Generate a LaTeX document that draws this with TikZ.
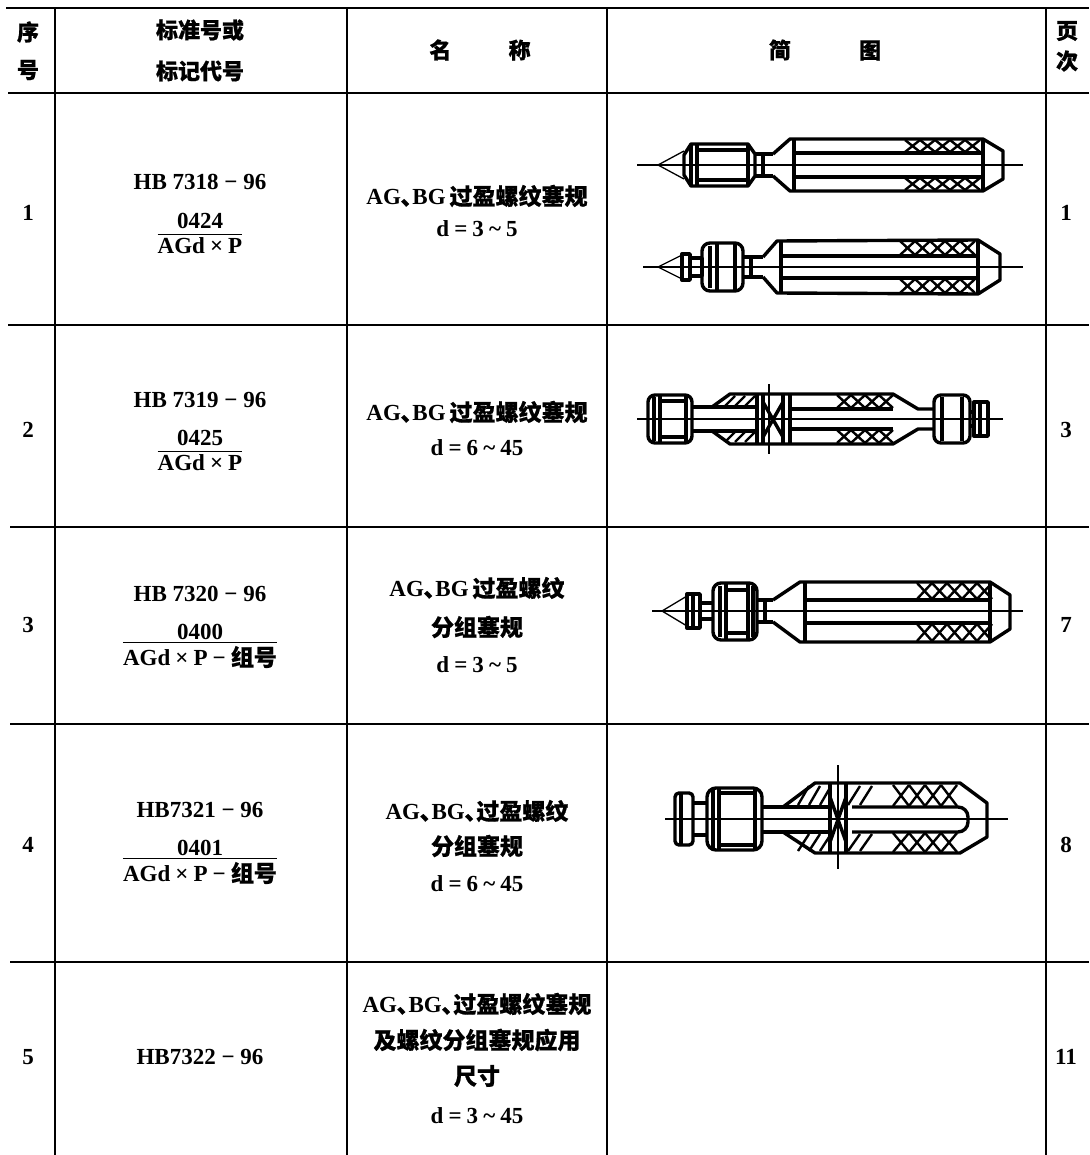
\documentclass[tikz,border=0pt]{standalone}
\usepackage{fontspec}
\setmainfont{Liberation Serif}
\newfontfamily\cjk{Noto Sans CJK SC}[FakeBold=0.7]
\newcommand\zh[1]{{\cjk #1}}
\newcommand\dun{{\cjk ､}}
\newcommand\knurl[5]{%
  \foreach \i in {1,...,#3}{%
    \draw[kn] ({#1+(\i-1)*#2},#4) -- ({#1+\i*#2},#5);
    \draw[kn] ({#1+(\i-1)*#2},#5) -- ({#1+\i*#2},#4);
  }}
\newcommand\hatchup[5]{%
  \foreach \i in {1,...,#3}{%
    \draw[kn] ({#1+(\i-1)*#2},#5) -- ({#1+(\i-1)*#2+#2},#4);
  }}
\newcommand\gsp{\hspace{0.22em}}
\begin{document}
\begin{tikzpicture}[x=1pt,y=-1pt,
  lat/.style={font=\fontsize{23}{26}\selectfont\bfseries, inner sep=0pt},
  hz/.style={font=\fontsize{22}{26}\selectfont\bfseries\cjk, inner sep=0pt},
  tline/.style={line width=1.8pt},
  gl/.style={line width=3.4pt, line join=round},
  kn/.style={line width=2.4pt},
  ax/.style={line width=1.3pt},
  thin/.style={line width=1.3pt}]
\useasboundingbox (0,0) rectangle (1089,1155);
\fill[white] (0,0) rectangle (1089,1155);

% ---------------- table rules
\draw[tline, line width=2.6pt] (6,8) -- (1089,8);
\draw[tline] (8,93) -- (1089,93);
\draw[tline] (8,325) -- (1089,325);
\draw[tline] (10,527) -- (1089,527);
\draw[tline] (10,724) -- (1089,724);
\draw[tline] (10,962) -- (1089,962);
\draw[tline] (55,8) -- (55,1155);
\draw[tline] (347,8) -- (347,1155);
\draw[tline] (607,8) -- (607,1155);
\draw[tline] (1046,8) -- (1046,1155);

% ---------------- header
\node[hz] (h1a) at (28,32) {序};
\node[hz] (h1b) at (28,70) {号};
\node[hz] (h2a) at (200,30) {标准号或};
\node[hz] (h2b) at (200,71) {标记代号};
\node[hz] (h3) at (480,50) {名\hspace{2.6em}称};
\node[hz] (h4) at (825,50) {简\hspace{3.1em}图};
\node[hz] (h5a) at (1067,31) {页};
\node[hz] (h5b) at (1067,61) {次};

% ---------------- column 1 and 5
\node[lat] (r1) at (28,213) {1};
\node[lat] (r2) at (28,430) {2};
\node[lat] (r3) at (28,625) {3};
\node[lat] (r4) at (28,845) {4};
\node[lat] (r5) at (28,1057) {5};
\node[lat] (p1) at (1066,213) {1};
\node[lat] (p2) at (1066,430) {3};
\node[lat] (p3) at (1066,625) {7};
\node[lat] (p4) at (1066,845) {8};
\node[lat] (p5) at (1066,1057) {11};

% ---------------- column 2
\node[lat] (s1) at (200,182) {HB 7318 − 96};
\node[lat] (s1n) at (200,221) {0424};
\node[lat] (s1d) at (200,246) {AGd\gsp×\gsp P};
\draw[thin] ([yshift=3pt]s1d.north west) -- ([yshift=3pt]s1d.north east);
\node[lat] (s2) at (200,400) {HB 7319 − 96};
\node[lat] (s2n) at (200,438) {0425};
\node[lat] (s2d) at (200,463) {AGd\gsp×\gsp P};
\draw[thin] ([yshift=3pt]s2d.north west) -- ([yshift=3pt]s2d.north east);
\node[lat] (s3) at (200,594) {HB 7320 − 96};
\node[lat] (s3n) at (200,632) {0400};
\node[lat] (s3d) at (200,657) {AGd\gsp×\gsp P\gsp−\gsp\zh{组号}};
\draw[thin] ([yshift=3pt]s3d.north west) -- ([yshift=3pt]s3d.north east);
\node[lat] (s4) at (200,810) {HB7321 − 96};
\node[lat] (s4n) at (200,848) {0401};
\node[lat] (s4d) at (200,873) {AGd\gsp×\gsp P\gsp−\gsp\zh{组号}};
\draw[thin] ([yshift=3pt]s4d.north west) -- ([yshift=3pt]s4d.north east);
\node[lat] (s5) at (200,1057) {HB7322 − 96};

% ---------------- column 3
\node[lat] (n1a) at (477,196) {AG\dun BG\,\zh{过盈螺纹塞规}};
\node[lat] (n1b) at (477,229) {d\gsp=\gsp3\gsp\textasciitilde\gsp5};
\node[lat] (n2a) at (477,412) {AG\dun BG\,\zh{过盈螺纹塞规}};
\node[lat] (n2b) at (477,448) {d\gsp=\gsp6\gsp\textasciitilde\gsp45};
\node[lat] (n3a) at (477,588) {AG\dun BG\,\zh{过盈螺纹}};
\node[lat] (n3b) at (477,627) {\zh{分组塞规}};
\node[lat] (n3c) at (477,665) {d\gsp=\gsp3\gsp\textasciitilde\gsp5};
\node[lat] (n4a) at (477,811) {AG\dun BG\dun\zh{过盈螺纹}};
\node[lat] (n4b) at (477,846) {\zh{分组塞规}};
\node[lat] (n4c) at (477,884) {d\gsp=\gsp6\gsp\textasciitilde\gsp45};
\node[lat] (n5a) at (477,1004) {AG\dun BG\dun\zh{过盈螺纹塞规}};
\node[lat] (n5b) at (477,1040) {\zh{及螺纹分组塞规应用}};
\node[lat] (n5c) at (477,1076) {\zh{尺寸}};
\node[lat] (n5d) at (477,1116) {d\gsp=\gsp3\gsp\textasciitilde\gsp45};

% ================= drawing 1, upper gauge (axis y=165)
\draw[ax] (637,165) -- (1023,165);
\draw[thin] (684,151) -- (658,165) -- (684,179);
\draw[gl] (684,155) -- (691,144) -- (748,144) -- (755,154) -- (755,176) -- (748,186) -- (691,186) -- (684,175) -- cycle;
\draw[gl] (691,145) -- (691,185) (697,145) -- (697,185) (748,145) -- (748,185);
\draw[gl] (697,150) -- (748,150) (697,180) -- (748,180);
\draw[gl] (755,154) -- (773,154) (755,176) -- (773,176) (763,154) -- (763,176);
\draw[gl] (773,154) -- (790,139) -- (983,139) -- (1003,151) -- (1003,179) -- (983,191) -- (790,191) -- (773,176);
\draw[gl] (794,139) -- (794,191) (983,139) -- (983,191);
\draw[gl] (794,153) -- (983,153) (794,177) -- (983,177);
\knurl{905}{15}{5}{140}{152}
\knurl{905}{15}{5}{178}{190}

% ================= drawing 1, lower gauge (axis y=267)
\draw[ax] (643,267) -- (1023,267);
\draw[thin] (682,255) -- (658,267) -- (682,279);
\draw[gl] (682,254) rectangle (690,280);
\draw[gl] (690,258) rectangle (702,276);
\draw[gl, rounded corners=8pt] (702,243) rectangle (743,291);
\draw[gl] (710,246) -- (710,288) (717,244) -- (717,290) (735,244) -- (735,290);
\draw[gl] (743,257) -- (763,257) (743,277) -- (763,277) (751,257) -- (751,277);
\draw[gl] (763,257) -- (777,241) -- (978,240) -- (1000,254) -- (1000,280) -- (978,294) -- (777,293) -- (763,277);
\draw[gl] (781,241) -- (781,293) (978,240) -- (978,294);
\draw[gl] (781,256) -- (978,256) (781,278) -- (978,278);
\knurl{900}{15}{5}{241}{255}
\knurl{900}{15}{5}{279}{293}

% ================= drawing 2 (axis y=419)
\draw[ax] (637,419) -- (1003,419);
\draw[gl, rounded corners=7pt] (648,395) rectangle (692,443);
\draw[gl] (654,397) -- (654,441) (660,396) -- (660,442) (686,396) -- (686,442);
\draw[gl] (660,401) -- (686,401) (660,437) -- (686,437);
\draw[gl] (692,407) -- (757,407) (692,431) -- (757,431);
\draw[gl] (712,407) -- (730,394) -- (893,394) -- (918,409) -- (934,409);
\draw[gl] (712,431) -- (730,444) -- (893,444) -- (918,429) -- (934,429);
\draw[gl, rounded corners=7pt] (934,395) rectangle (970,443);
\draw[gl] (942,397) -- (942,441) (962,397) -- (962,441);
\draw[gl] (970,412) -- (974,412) (970,426) -- (974,426);
\draw[gl] (974,402) rectangle (988,436);
\draw[gl] (980,402) -- (980,436);
\draw[gl] (757,395) -- (757,443) (763,395) -- (763,443) (783,395) -- (783,443) (790,395) -- (790,443);
\draw[line width=1.8pt] (769,384) -- (769,454);
\draw[gl] (763,402) -- (783,437) (763,437) -- (783,402);
\draw[gl] (790,409) -- (893,409) (790,429) -- (893,429);
\hatchup{725}{10}{3}{396}{406}
\hatchup{725}{10}{3}{432}{442}
\knurl{837}{14}{4}{395}{408}
\knurl{837}{14}{4}{430}{443}

% ================= drawing 3 (axis y=611)
\draw[ax] (652,611) -- (1023,611);
\draw[thin] (687,596) -- (662,611) -- (687,626);
\draw[gl] (687,594) rectangle (700,628);
\draw[gl] (693,594) -- (693,628);
\draw[gl] (700,603) -- (713,603) (700,619) -- (713,619);
\draw[gl, rounded corners=8pt] (713,583) rectangle (757,640);
\draw[gl] (720,586) -- (720,637) (726,584) -- (726,639) (748,584) -- (748,639) (753,586) -- (753,637);
\draw[gl] (726,590) -- (748,590) (726,633) -- (748,633);
\draw[gl] (757,600) -- (773,600) (757,622) -- (773,622) (765,600) -- (765,622);
\draw[gl] (773,600) -- (800,582) -- (990,582) -- (1010,595) -- (1010,629) -- (990,642) -- (800,642) -- (773,622);
\draw[gl] (805,582) -- (805,642) (990,582) -- (990,642);
\draw[gl] (805,600) -- (990,600) (805,623) -- (990,623);
\knurl{917}{15}{5}{583}{599}
\knurl{917}{15}{5}{624}{641}

% ================= drawing 4 (axis y=819)
\draw[ax] (665,819) -- (1008,819);
\draw[gl, rounded corners=4pt] (675,793) rectangle (693,845);
\draw[gl] (681,794) -- (681,844);
\draw[gl] (693,803) -- (707,803) (693,835) -- (707,835);
\draw[gl, rounded corners=9pt] (707,788) rectangle (762,850);
\draw[gl] (713,790) -- (713,848) (719,789) -- (719,849) (755,789) -- (755,849);
\draw[gl] (719,793) -- (755,793) (719,845) -- (755,845);
\draw[gl] (762,807) -- (830,807) (762,832) -- (830,832);
\draw[gl] (783,807) -- (815,783) -- (960,783) -- (987,803) -- (987,837) -- (960,853) -- (815,853) -- (783,832);
\draw[gl] (830,784) -- (830,852) (846,784) -- (846,852);
\draw[line width=1.8pt] (838,765) -- (838,869);
\draw[gl] (830,797) -- (846,842) (830,842) -- (846,797);
\draw[gl, rounded corners=10pt] (852,807) -- (968,807) -- (968,832) -- (852,832);
\hatchup{798}{11}{3}{786}{805}
\hatchup{798}{11}{3}{834}{851}
\hatchup{848}{12}{2}{786}{805}
\hatchup{848}{12}{2}{834}{851}
\knurl{893}{16}{4}{785}{806}
\knurl{893}{16}{4}{833}{852}
\end{tikzpicture}
\end{document}
